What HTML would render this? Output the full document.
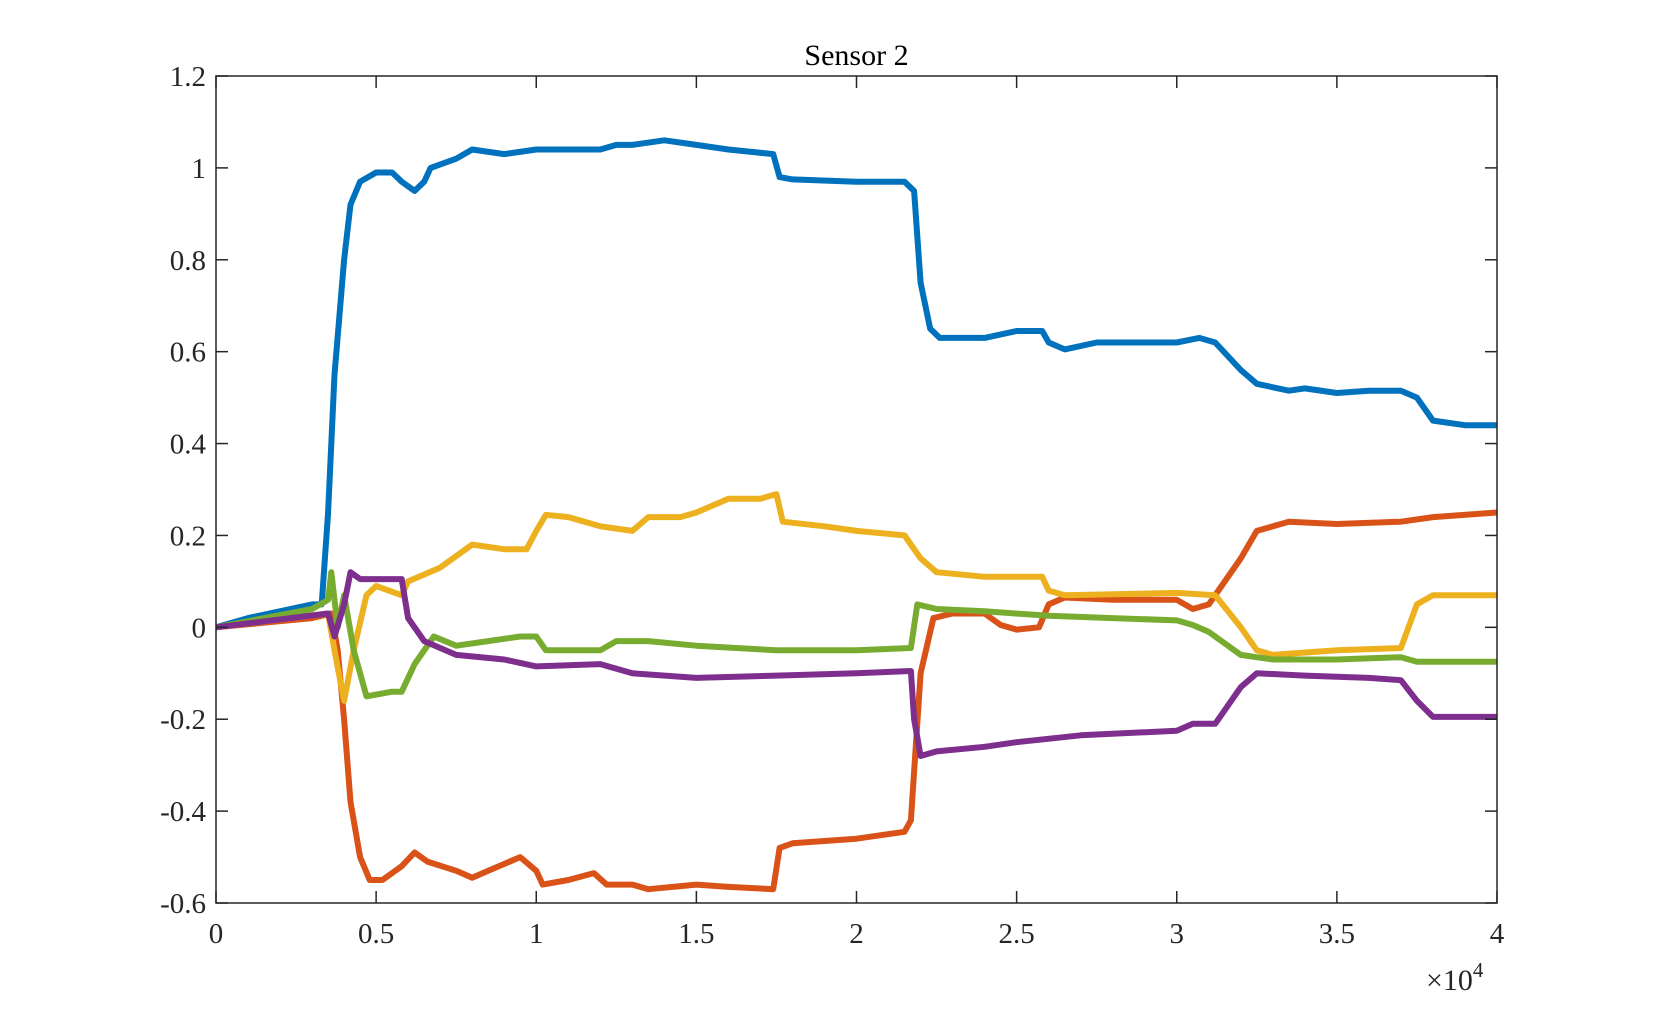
<!DOCTYPE html>
<html><head><meta charset="utf-8"><style>
body{margin:0;background:#fff}
svg{display:block;font-family:"Liberation Serif",serif}
</style></head><body>
<svg id="c" width="1654" height="1016"></svg>
<script>
const seriesNames=["blue","red","yellow","green","purple"];
const seriesColors=["#0072BD","#D95319","#EDB120","#77AC30","#7E2F8E"];
const blueX=[0,0.1,0.3,0.33,0.35,0.37,0.4,0.42,0.45,0.5,0.55,0.58,0.62,0.65,0.67,0.75,0.8,0.9,1.0,1.1,1.2,1.25,1.3,1.4,1.5,1.6,1.74,1.76,1.8,2.0,2.15,2.18,2.2,2.23,2.26,2.4,2.5,2.58,2.6,2.65,2.75,3.0,3.07,3.12,3.2,3.25,3.35,3.4,3.5,3.6,3.7,3.75,3.8,3.9,4];
const blueY=[0,0.02,0.05,0.05,0.25,0.55,0.8,0.92,0.97,0.99,0.99,0.97,0.95,0.97,1.0,1.02,1.04,1.03,1.04,1.04,1.04,1.05,1.05,1.06,1.05,1.04,1.03,0.98,0.975,0.97,0.97,0.95,0.75,0.65,0.63,0.63,0.645,0.645,0.62,0.605,0.62,0.62,0.63,0.62,0.56,0.53,0.515,0.52,0.51,0.515,0.515,0.5,0.45,0.44,0.44];
const redX=[0,0.3,0.36,0.38,0.4,0.42,0.45,0.48,0.52,0.58,0.62,0.66,0.75,0.8,0.85,0.95,1.0,1.02,1.1,1.18,1.22,1.3,1.35,1.5,1.6,1.74,1.76,1.8,2.0,2.15,2.17,2.2,2.24,2.3,2.4,2.45,2.5,2.57,2.6,2.65,2.8,3.0,3.05,3.1,3.2,3.25,3.35,3.5,3.7,3.8,4];
const redY=[0,0.02,0.03,-0.05,-0.2,-0.38,-0.5,-0.55,-0.55,-0.52,-0.49,-0.51,-0.53,-0.545,-0.53,-0.5,-0.53,-0.56,-0.55,-0.535,-0.56,-0.56,-0.57,-0.56,-0.565,-0.57,-0.48,-0.47,-0.46,-0.445,-0.42,-0.1,0.02,0.03,0.03,0.005,-0.005,0,0.05,0.065,0.06,0.06,0.04,0.05,0.15,0.21,0.23,0.225,0.23,0.24,0.25];
const yellowX=[0,0.35,0.37,0.4,0.43,0.47,0.5,0.58,0.6,0.7,0.8,0.9,0.97,1.0,1.03,1.1,1.2,1.3,1.35,1.45,1.5,1.6,1.7,1.75,1.77,1.9,2.0,2.15,2.2,2.25,2.4,2.58,2.6,2.65,3.0,3.12,3.2,3.25,3.3,3.5,3.7,3.75,3.8,4];
const yellowY=[0,0.03,-0.05,-0.16,-0.05,0.07,0.09,0.07,0.1,0.13,0.18,0.17,0.17,0.21,0.245,0.24,0.22,0.21,0.24,0.24,0.25,0.28,0.28,0.29,0.23,0.22,0.21,0.2,0.15,0.12,0.11,0.11,0.08,0.07,0.075,0.07,0.0,-0.05,-0.06,-0.05,-0.045,0.05,0.07,0.07];
const greenX=[0,0.3,0.35,0.36,0.38,0.4,0.43,0.47,0.55,0.58,0.62,0.68,0.75,0.85,0.95,1.0,1.03,1.2,1.25,1.35,1.5,1.75,2.0,2.17,2.19,2.25,2.4,2.6,2.8,3.0,3.05,3.1,3.2,3.3,3.5,3.7,3.75,4];
const greenY=[0,0.04,0.06,0.12,0.0,0.07,-0.05,-0.15,-0.14,-0.14,-0.08,-0.02,-0.04,-0.03,-0.02,-0.02,-0.05,-0.05,-0.03,-0.03,-0.04,-0.05,-0.05,-0.045,0.05,0.04,0.035,0.025,0.02,0.015,0.005,-0.01,-0.06,-0.07,-0.07,-0.065,-0.075,-0.075];
const purpleX=[0,0.35,0.37,0.4,0.42,0.45,0.58,0.6,0.65,0.75,0.9,1.0,1.2,1.3,1.5,1.75,2.0,2.17,2.18,2.2,2.25,2.4,2.5,2.7,3.0,3.05,3.12,3.2,3.25,3.4,3.6,3.7,3.75,3.8,4];
const purpleY=[0,0.03,-0.02,0.05,0.12,0.105,0.105,0.02,-0.03,-0.06,-0.07,-0.085,-0.08,-0.1,-0.11,-0.105,-0.1,-0.095,-0.2,-0.28,-0.27,-0.26,-0.25,-0.235,-0.225,-0.21,-0.21,-0.13,-0.1,-0.105,-0.11,-0.115,-0.16,-0.195,-0.195];
const xTicks=[0,0.5,1,1.5,2,2.5,3,3.5,4];
const xTickLabels=["0","0.5","1","1.5","2","2.5","3","3.5","4"];
const yTicks=[-0.6,-0.4,-0.2,0,0.2,0.4,0.6,0.8,1,1.2];
const yTickLabels=["-0.6","-0.4","-0.2","0","0.2","0.4","0.6","0.8","1","1.2"];
const L=216,R=1497,T=76,B=903;
const sx=v=>L+(v-0)/(4-0)*(R-L);
const sy=v=>B-(v+0.6)/1.8*(B-T);
const svg=document.getElementById('c');
const NS="http://www.w3.org/2000/svg";
function mk(t,a){const e=document.createElementNS(NS,t);for(const k in a)e.setAttribute(k,a[k]);svg.appendChild(e);return e;}
const xs=[blueX,redX,yellowX,greenX,purpleX], ys=[blueY,redY,yellowY,greenY,purpleY];
for(let s=0;s<5;s++){
  const d=xs[s].map((x,i)=>(i?'L':'M')+sx(x).toFixed(1)+','+sy(ys[s][i]).toFixed(1)).join('');
  const p=mk('path',{d:d,fill:'none',stroke:seriesColors[s],'stroke-width':6,'stroke-linejoin':'round'});
  
  
}
const box=mk('rect',{x:L,y:T,width:R-L,height:B-T,fill:'none',stroke:'#262626','stroke-width':1.5});


xTicks.forEach((v,i)=>{
  const x=sx(v);
  mk('line',{x1:x,y1:B,x2:x,y2:B-12,stroke:'#262626','stroke-width':1.5});
  mk('line',{x1:x,y1:T,x2:x,y2:T+12,stroke:'#262626','stroke-width':1.5});
  const t=mk('text',{x:x,y:B+40,'text-anchor':'middle','font-size':29,fill:'#262626'});
  t.textContent=xTickLabels[i];
  
  
});
yTicks.forEach((v,i)=>{
  const y=sy(v);
  mk('line',{x1:L,y1:y,x2:L+12,y2:y,stroke:'#262626','stroke-width':1.5});
  mk('line',{x1:R,y1:y,x2:R-12,y2:y,stroke:'#262626','stroke-width':1.5});
  const t=mk('text',{x:L-10,y:y+10,'text-anchor':'end','font-size':29,fill:'#262626'});
  t.textContent=yTickLabels[i];
  
  
});
const ex=mk('text',{x:1426,y:990,'font-size':30,fill:'#262626'});
ex.innerHTML='×10<tspan dy="-13" font-size="21">4</tspan>';


const ti=mk('text',{x:(L+R)/2,y:65,'text-anchor':'middle','font-size':30,fill:'#000'});
ti.textContent='Sensor 2';


</script>
</body></html>
